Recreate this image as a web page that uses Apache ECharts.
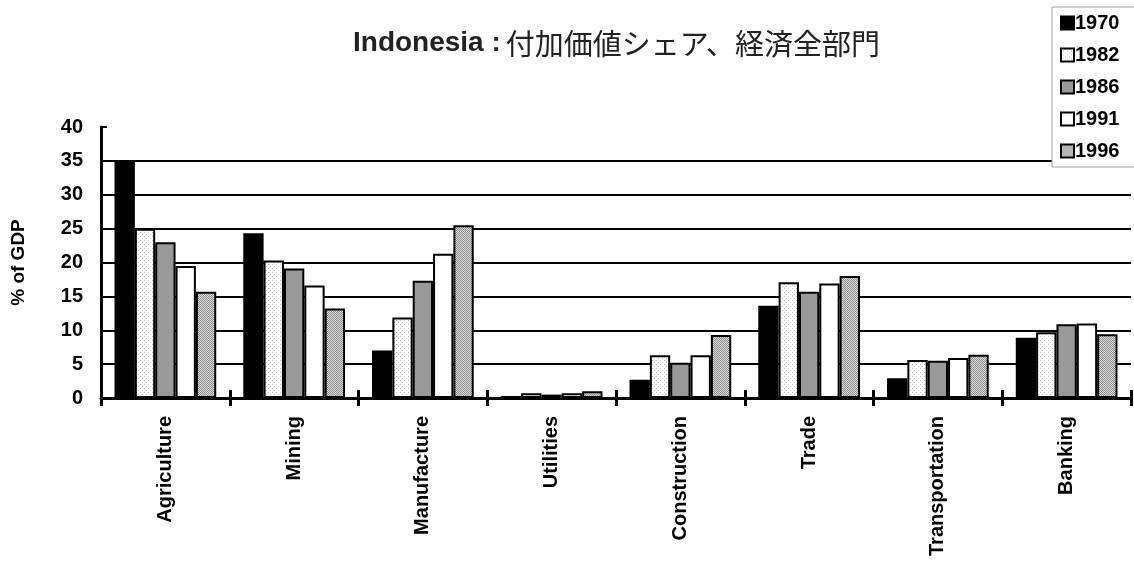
<!DOCTYPE html>
<html>
<head>
<meta charset="utf-8">
<script src="https://cdn.jsdelivr.net/npm/echarts@6/dist/echarts.min.js"></script>
<style>
  html, body { margin: 0; padding: 0; background: #fff; }
  #chart { width: 1134px; height: 568px; }
</style>
</head>
<body>
<div id="chart"></div>
<script>
// Sector shares of GDP (%), Indonesia
const categories = ['Agriculture', 'Mining', 'Manufacture', 'Utilities', 'Construction', 'Trade', 'Transportation', 'Banking'];
const years = ['1970', '1982', '1986', '1991', '1996'];
const v1970 = [35.0, 24.3, 7.0, 0.3, 2.7, 13.6, 2.9, 8.9];
const v1982 = [25.0, 20.3, 11.9, 0.7, 6.3, 17.1, 5.6, 9.7];
const v1986 = [23.0, 19.1, 17.3, 0.5, 5.2, 15.7, 5.5, 10.9];
const v1991 = [19.5, 16.6, 21.3, 0.7, 6.3, 16.9, 5.9, 11.0];
const v1996 = [15.7, 13.2, 25.5, 1.0, 9.3, 18.0, 6.4, 9.4];
const yTicks = [0, 5, 10, 15, 20, 25, 30, 35, 40];

// Small tiled canvases used as bar fills
function makePattern(size, draw) {
  const c = document.createElement('canvas');
  c.width = size; c.height = size;
  const ctx = c.getContext('2d');
  draw(ctx);
  return { image: c, repeat: 'repeat' };
}
const sparseDots = makePattern(4, ctx => {
  ctx.fillStyle = '#ffffff'; ctx.fillRect(0, 0, 4, 4);
  ctx.fillStyle = '#c4c4c4'; ctx.fillRect(0, 0, 1, 1); ctx.fillRect(2, 2, 1, 1);
});
const denseCheck = makePattern(2, ctx => {
  ctx.fillStyle = '#dcdcdc'; ctx.fillRect(0, 0, 2, 2);
  ctx.fillStyle = '#8c8c8c'; ctx.fillRect(0, 0, 1, 1); ctx.fillRect(1, 1, 1, 1);
});

const fills = ['#000000', sparseDots, '#999999', '#ffffff', denseCheck];
const values = [v1970, v1982, v1986, v1991, v1996];

const FONT = '"Liberation Sans", Arial, sans-serif';
const chart = echarts.init(document.getElementById('chart'), null, { renderer: 'canvas' });

chart.setOption({
  animation: false,
  backgroundColor: '#ffffff',
  title: {
    text: '{a|Indonesia :} {b|付加価値シェア、経済全部門}',
    left: 348,
    top: 24,
    textStyle: {
      rich: {
        a: { fontFamily: FONT, fontWeight: 'bold', fontSize: 28, color: '#222' },
        b: { fontFamily: '"Noto Sans CJK JP", sans-serif', fontWeight: 'normal', fontSize: 29, color: '#222' }
      }
    }
  },
  legend: {
    orient: 'vertical',
    left: 1052,
    top: 7,
    padding: [5, 40, 5, 8],
    itemGap: 10,
    itemWidth: 13,
    itemHeight: 13,
    backgroundColor: '#ffffff',
    borderColor: '#a0a0a0',
    borderWidth: 1,
    icon: 'rect',
    data: years,
    textStyle: { fontFamily: FONT, fontWeight: 'bold', fontSize: 20, lineHeight: 22, color: '#000', padding: [0, 0, 0, -4] }
  },
  grid: { left: 101, right: 3, top: 127, bottom: 170, containLabel: false },
  xAxis: [
    {
      type: 'category',
      data: categories,
      axisLine: { show: true, lineStyle: { color: '#000', width: 3 } },
      axisTick: { show: true, length: 8, lineStyle: { color: '#000', width: 3 } },
      axisLabel: {
        rotate: 90,
        margin: 18,
        fontFamily: FONT,
        fontWeight: 'bold',
        fontSize: 20,
        color: '#000'
      }
    },
    {
      // second copy of the category axis: tick marks rising above the baseline
      type: 'category',
      data: categories,
      position: 'bottom',
      axisLine: { show: false },
      axisTick: { show: true, inside: true, length: 8, lineStyle: { color: '#000', width: 3 } },
      axisLabel: { show: false }
    }
  ],
  yAxis: {
    type: 'value',
    min: yTicks[0],
    max: yTicks[yTicks.length - 1],
    interval: 5,
    name: '% of GDP',
    nameLocation: 'middle',
    nameGap: 73,
    nameRotate: 90,
    nameTextStyle: { fontFamily: FONT, fontWeight: 'bold', fontSize: 19, color: '#000' },
    axisLine: { show: true, lineStyle: { color: '#000', width: 3 } },
    axisTick: { show: true, inside: true, length: 6, lineStyle: { color: '#000', width: 2 } },
    axisLabel: { margin: 18, fontFamily: FONT, fontWeight: 'bold', fontSize: 20, color: '#000' },
    splitLine: {
      show: true,
      lineStyle: {
        width: 2,
        color: yTicks.map((t, i) => (i === yTicks.length - 1 ? 'rgba(0,0,0,0)' : '#000'))
      }
    }
  },
  series: years.map((y, i) => ({
    name: y,
    type: 'bar',
    data: values[i],
    barGap: '0%',
    barCategoryGap: '21%',
    itemStyle: { color: fills[i], borderColor: '#000', borderWidth: 2 },
    emphasis: { disabled: true }
  }))
});
</script>
</body>
</html>
